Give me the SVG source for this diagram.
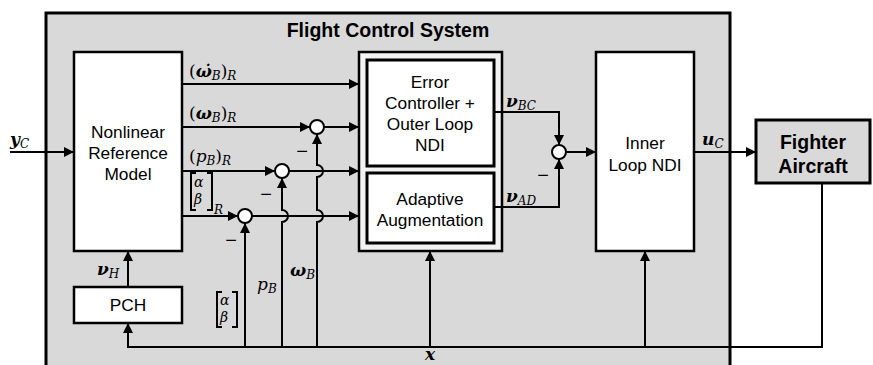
<svg xmlns="http://www.w3.org/2000/svg" width="873" height="365" viewBox="0 0 873 365">
<defs>
<style>
.box{fill:#ffffff;stroke:#000;stroke-width:2.5}
.ibox{fill:#ffffff;stroke:#000;stroke-width:3}
.ln{fill:none;stroke:#000;stroke-width:2}
.sum{fill:#ffffff;stroke:#000;stroke-width:2}
.t{font-family:"Liberation Sans",Arial,sans-serif;font-size:17.3px;fill:#000;text-anchor:middle}
.tb{font-family:"Liberation Sans",Arial,sans-serif;font-size:19.5px;font-weight:bold;fill:#000;text-anchor:middle}
.m{font-family:"DejaVu Serif",serif;font-size:17px;font-style:italic;fill:#000}
.v{font-weight:bold}
.s{font-size:12px}
.up{font-style:normal}
.g{font-family:"DejaVu Serif",serif;font-size:14px;font-style:italic;fill:#000}
.mn{font-family:"Liberation Sans",Arial,sans-serif;font-size:20px;fill:#000;text-anchor:middle}
</style>
<marker id="ar" viewBox="0 0 10 10" refX="10" refY="5" markerWidth="11" markerHeight="10" markerUnits="userSpaceOnUse" orient="auto">
<path d="M0,0 L10,5 L0,10 Z" fill="#000"/>
</marker>
</defs>
<rect x="0" y="0" width="873" height="365" fill="#ffffff"/>
<g id="fcs">
<rect x="46" y="13" width="684" height="360" fill="#d9d9d9" stroke="#000" stroke-width="3"/>
<text class="tb" x="388" y="37">Flight Control System</text>
</g>
<g id="refmodel">
<rect class="box" x="74" y="52" width="108" height="199"/>
<text class="t" x="128" y="138">Nonlinear</text>
<text class="t" x="128" y="159">Reference</text>
<text class="t" x="128" y="180">Model</text>
</g>
<g id="pch">
<rect class="box" x="74" y="287" width="108" height="36"/>
<text class="t" x="128" y="311">PCH</text>
</g>
<g id="errorbox">
<rect x="359" y="52" width="143" height="199" fill="#f2f2f2" stroke="#000" stroke-width="2.5"/>
<rect class="ibox" x="367" y="60" width="127" height="106"/>
<text class="t" x="430" y="88">Error</text>
<text class="t" x="430" y="109">Controller +</text>
<text class="t" x="430" y="130">Outer Loop</text>
<text class="t" x="430" y="151">NDI</text>
<rect class="ibox" x="367" y="173" width="127" height="70"/>
<text class="t" x="430" y="205">Adaptive</text>
<text class="t" x="430" y="226">Augmentation</text>
</g>
<g id="innerloop">
<rect class="box" x="596" y="52" width="98" height="199"/>
<text class="t" x="645" y="149">Inner</text>
<text class="t" x="645" y="171">Loop NDI</text>
</g>
<g id="aircraft">
<rect x="756" y="120" width="114" height="63" fill="#d9d9d9" stroke="#000" stroke-width="3"/>
<text class="tb" x="813" y="149">Fighter</text>
<text class="tb" x="813" y="173">Aircraft</text>
</g>
<g id="sums">
<circle class="sum" cx="317" cy="127" r="7"/>
<circle class="sum" cx="282" cy="171" r="7"/>
<circle class="sum" cx="245" cy="216" r="7"/>
<circle class="sum" cx="559" cy="152" r="7"/>
</g>
<g id="connectors">
<path class="ln" d="M10 152 H74" marker-end="url(#ar)"/>
<path class="ln" d="M182 84 H359" marker-end="url(#ar)"/>
<path class="ln" d="M182 127 H310" marker-end="url(#ar)"/>
<path class="ln" d="M324 127 H359" marker-end="url(#ar)"/>
<path class="ln" d="M182 171 H275" marker-end="url(#ar)"/>
<path class="ln" d="M289 171 H359" marker-end="url(#ar)"/>
<path class="ln" d="M182 216 H238" marker-end="url(#ar)"/>
<path class="ln" d="M252 216 H359" marker-end="url(#ar)"/>
<path class="ln" d="M245 347 V223" marker-end="url(#ar)"/>
<path class="ln" d="M282 347 V222 A6 6 0 0 0 282 210 V178" marker-end="url(#ar)"/>
<path class="ln" d="M317 347 V222 A6 6 0 0 0 317 210 V177 A6 6 0 0 0 317 165 V134" marker-end="url(#ar)"/>
<path class="ln" d="M494 112 H559 V145" marker-end="url(#ar)"/>
<path class="ln" d="M494 207 H559 V159" marker-end="url(#ar)"/>
<path class="ln" d="M566 152 H596" marker-end="url(#ar)"/>
<path class="ln" d="M694 152 H756" marker-end="url(#ar)"/>
<path class="ln" d="M822 183 V347 H128 V323" marker-end="url(#ar)"/>
<path class="ln" d="M430 347 V251" marker-end="url(#ar)"/>
<path class="ln" d="M645 347 V251" marker-end="url(#ar)"/>
<path class="ln" d="M128 287 V251" marker-end="url(#ar)"/>
<path class="ln" d="M196 173 H191 V210 H196 M207 173 H212 V210 H207" stroke-width="1.2"/>
<path class="ln" d="M222 292 H217 V327 H222 M232 292 H237 V327 H232" stroke-width="1.2"/>
</g>
<g id="labels">
<text class="m" x="10" y="145"><tspan class="v">y</tspan><tspan class="s" dy="3">C</tspan></text>
<text class="m" x="189" y="77"><tspan class="up">(</tspan><tspan class="v">ω̇</tspan><tspan class="s" dy="3">B</tspan><tspan class="up" dy="-3">)</tspan><tspan class="s" dy="3">R</tspan></text>
<text class="m" x="189" y="119"><tspan class="up">(</tspan><tspan class="v">ω</tspan><tspan class="s" dy="3">B</tspan><tspan class="up" dy="-3">)</tspan><tspan class="s" dy="3">R</tspan></text>
<text class="m" x="189" y="162"><tspan class="up">(</tspan>p<tspan class="s" dy="3">B</tspan><tspan class="up" dy="-3">)</tspan><tspan class="s" dy="3">R</tspan></text>
<text class="g" x="194" y="187">α</text>
<text class="g" x="194" y="204">β</text>
<text class="m s" x="214" y="214">R</text>
<text class="g" x="220" y="305">α</text>
<text class="g" x="220" y="322">β</text>
<text class="m" x="257" y="290">p<tspan class="s" dy="3">B</tspan></text>
<text class="m" x="290" y="276"><tspan class="v">ω</tspan><tspan class="s" dy="3">B</tspan></text>
<text class="m" x="97" y="275"><tspan class="v">ν</tspan><tspan class="s" dy="3">H</tspan></text>
<text class="m" x="506" y="107"><tspan class="v">ν</tspan><tspan class="s" dy="3">BC</tspan></text>
<text class="m" x="506" y="202"><tspan class="v">ν</tspan><tspan class="s" dy="3">AD</tspan></text>
<text class="m" x="702" y="145"><tspan class="v">u</tspan><tspan class="s" dy="3">C</tspan></text>
<text class="m v" x="425" y="360">x</text>
<text class="mn" x="302" y="158">−</text>
<text class="mn" x="266" y="201">−</text>
<text class="mn" x="231" y="247">−</text>
<text class="mn" x="543" y="182">−</text>
</g>
</svg>
